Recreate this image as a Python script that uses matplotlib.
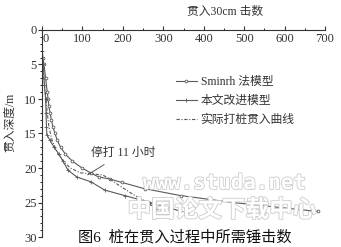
import matplotlib
matplotlib.use("Agg")
import matplotlib.pyplot as plt
import matplotlib.patheffects as pe
import matplotlib.transforms as mtransforms
from matplotlib.ticker import MultipleLocator

# Depth (m) against blows per 30 cm
smith_depth = [4, 5, 7, 9, 10, 11, 12, 13, 14, 15, 16, 17, 18, 19, 20, 20.7, 21.3, 21.6, 22.1, 23, 24, 25, 26.3]
smith_blows = [2, 5, 9, 13, 15, 17, 20, 23, 27, 32, 38, 46, 58, 75, 99, 120, 140, 168, 198, 254, 343, 472, 682]

improved_depth = [0, 3, 5, 8, 10, 12, 14, 15.2, 16, 17, 18, 19, 20.3, 21.3, 22, 23.2, 24, 25, 26.5]
improved_blows = [0, 1, 3, 6, 9, 10, 11, 12, 20, 30, 42, 52, 64, 86, 121, 155, 205, 267, 358]

actual_depth = [0, 2, 4, 6, 8, 10, 12, 14, 16, 18, 19, 20, 20.7, 21.0, 21.5, 22.5, 24, 25, 26, 26.2]
actual_blows = [0, 0, 1, 3, 6, 10, 13, 17, 25, 40, 52, 70, 95, 150, 165, 190, 230, 262, 283, 308]

x_ticks = [0, 100, 200, 300, 400, 500, 600, 700]
y_ticks = [0, 5, 10, 15, 20, 25, 30]

labels = ["Sminrh 法模型", "本文改进模型", "实际打桩贯入曲线"]

plt.rcParams['font.family'] = ['Liberation Serif', 'Noto Sans CJK SC']
plt.rcParams['axes.unicode_minus'] = False


def main():
    fig = plt.figure(figsize=(3.41, 2.47), dpi=100)
    ax = fig.add_axes([42 / 341, 10 / 247, 283 / 341, 207 / 247])
    col = "#5a5a5a"

    ax.plot(smith_blows, smith_depth, color=col, lw=0.8, marker='o', ms=2.0,
            mfc='white', mec=col, mew=0.6, label=labels[0])
    ax.plot(improved_blows, improved_depth, color=col, lw=0.8, marker='+', ms=3.2,
            mew=0.6, label=labels[1])
    ax.plot(actual_blows, actual_depth, color=col, lw=0.8, ls=(0, (3, 1.5, 1, 1.5)),
            label=labels[2])

    ax.set_xlim(0, 700)
    ax.set_ylim(30, 0)
    ax.set_xticks(x_ticks)
    ax.set_yticks(y_ticks)
    ax.xaxis.set_minor_locator(MultipleLocator(50))
    ax.yaxis.set_minor_locator(MultipleLocator(1))
    ax.xaxis.tick_top()
    ax.tick_params(axis='x', which='major', labelsize=9, length=3, pad=-14, colors='#333333')
    ax.tick_params(axis='x', which='minor', length=1.5)
    ax.tick_params(axis='y', which='major', labelsize=9, length=3, pad=1, colors='#333333')
    ax.tick_params(axis='y', which='minor', length=1.5)
    ax.spines['right'].set_visible(False)
    ax.spines['bottom'].set_visible(False)
    for s in ('top', 'left'):
        ax.spines[s].set_color('#333333')
        ax.spines[s].set_linewidth(0.8)

    # nudge the "0" label off the y spine, as in the original
    shift = mtransforms.ScaledTranslation(4 / 100, 0, fig.dpi_scale_trans)
    for lbl in ax.xaxis.get_majorticklabels():
        if lbl.get_text() == "0" or lbl.get_position()[0] == 0:
            lbl.set_transform(lbl.get_transform() + shift)
            break

    leg = ax.legend(loc='upper left', bbox_to_anchor=(0.435, 0.83), frameon=False,
                    fontsize=8.5, handlelength=1.8, handletextpad=0.3, labelspacing=0.6)
    for t in leg.get_texts():
        t.set_color('#333333')

    ax.annotate("停打 11 小时", xy=(113, 21.0), xytext=(200, 17.8), fontsize=8.5,
                ha='center', va='center', color='#333333',
                arrowprops=dict(arrowstyle='-', color=col, lw=0.7, shrinkA=4, shrinkB=0))

    fig.text(225 / 341, 1 - 12 / 247, "贯入30cm 击数", fontsize=8.5, ha='center',
             va='center', color='#333333')
    fig.text(10 / 341, 1 - 122 / 247, "贯入深度/m", fontsize=8.5, rotation=90,
             ha='center', va='center', color='#333333')

    # watermark
    wm = [pe.withStroke(linewidth=1.2, foreground='#cccccc')]
    fig.text(225 / 341, 1 - 183 / 247, "www.studa.net", fontsize=15, fontweight='bold',
             family='DejaVu Sans Mono', ha='center', va='center', color='white',
             path_effects=wm)
    fig.text(222 / 341, 1 - 210 / 247, "中国论文下载中心", fontsize=17, fontweight='bold',
             family='Noto Sans CJK SC', ha='center', va='center', color='white',
             path_effects=wm)

    fig.text(185 / 341, 1 - 237 / 247, "图6  桩在贯入过程中所需锤击数", fontsize=11,
             ha='center', va='center', color='#111111')

    fig.savefig("out.png", dpi=100)


if __name__ == "__main__":
    main()
